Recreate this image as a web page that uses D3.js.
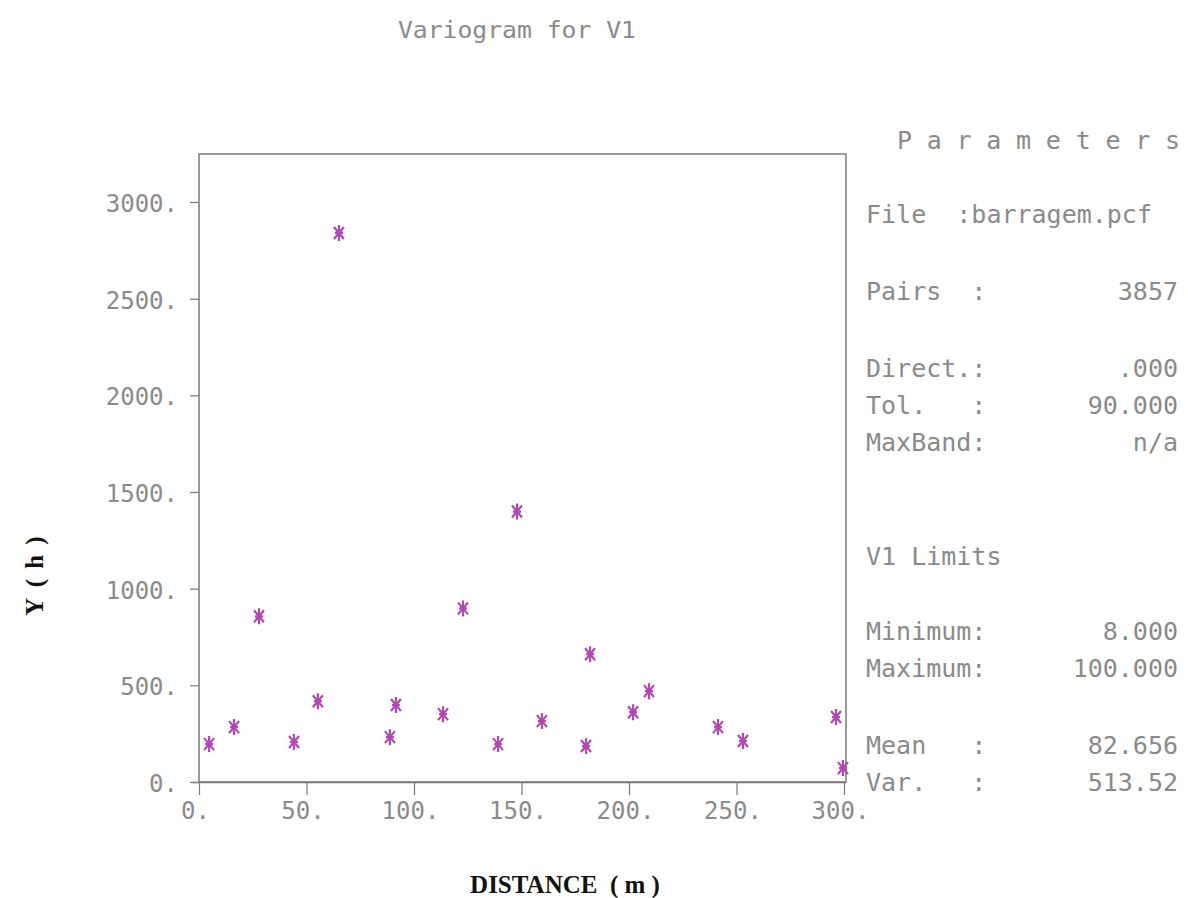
<!DOCTYPE html>
<html>
<head>
<meta charset="utf-8">
<script src="https://cdn.jsdelivr.net/npm/d3@7"></script>
<style>
  html, body { margin: 0; padding: 0; background: #fff; }
  svg { display: block; }
</style>
</head>
<body>
<svg id="chart" width="1188" height="898"></svg>
<script>
// ---- data ----
const title = "Variogram for V1";
const xLabel = "DISTANCE  ( m )";
const yLabel = "\u03A5 ( h )";
const lagDistance = [4.7, 16.3, 27.9, 44.2, 55.3, 65.1, 88.8, 91.6, 113.5, 122.8, 139.1, 147.9, 159.5, 180.0, 181.9, 201.9, 209.3, 241.4, 253.0, 296.3, 299.5];
const gammaValue  = [196, 284, 857, 207, 418, 2840, 232, 398, 351, 898, 196, 1399, 315, 186, 661, 361, 470, 284, 212, 336, 72];
const xTicks = [0, 50, 100, 150, 200, 250, 300];
const yTicks = [0, 500, 1000, 1500, 2000, 2500, 3000];
const paramsTitle = "Parameters";
const paramLabels = ["File  :barragem.pcf", "Pairs  :", "Direct.:", "Tol.   :", "MaxBand:", "V1 Limits", "Minimum:", "Maximum:", "Mean   :", "Var.   :"];
const paramValues = ["", "3857", ".000", "90.000", "n/a", "", "8.000", "100.000", "82.656", "513.52"];

// ---- layout ----
const svg = d3.select("#chart");
const frame = {left: 199, right: 846, top: 154, bottom: 782};
const x = d3.scaleLinear().domain([0, 300]).range([frame.left, frame.right - 2]);
const y = d3.scaleLinear().domain([0, 3000]).range([frame.bottom, 202]);
const grey = "#8a8a8a";
const mono = "'DejaVu Sans Mono', 'Liberation Mono', monospace";
const serif = "'Liberation Serif', 'DejaVu Serif', serif";

// title
svg.append("text")
  .attr("x", 398).attr("y", 38)
  .attr("font-family", mono).attr("font-size", 23)
  .attr("fill", grey)
  .attr("textLength", 238).attr("lengthAdjust", "spacingAndGlyphs")
  .text(title);

// frame
svg.append("rect")
  .attr("x", frame.left).attr("y", frame.top)
  .attr("width", frame.right - frame.left).attr("height", frame.bottom - frame.top)
  .attr("fill", "none").attr("stroke", "#7a7a7a").attr("stroke-width", 1.5);

// x axis
const xAxis = d3.axisBottom(x).tickValues(xTicks).tickSize(13).tickPadding(10)
  .tickFormat(d => d + ".");
const gx = svg.append("g").attr("transform", `translate(0,${frame.bottom})`).call(xAxis);
gx.select(".domain").attr("d", `M${frame.left - 6},0.5H${frame.right}`).attr("stroke", "#7a7a7a").attr("stroke-width", 1.5);
gx.selectAll(".tick line").attr("stroke", "#7a7a7a").attr("stroke-width", 1.2);
gx.selectAll(".tick text")
  .attr("font-family", mono).attr("font-size", 24).attr("fill", grey)
  .attr("dx", -4).attr("dy", "0.6em");

// y axis
const yAxis = d3.axisLeft(y).tickValues(yTicks).tickSize(9).tickPadding(12)
  .tickFormat(d => d + ".");
const gy = svg.append("g").attr("transform", `translate(${frame.left},0)`).call(yAxis);
gy.select(".domain").remove();
gy.selectAll(".tick line").attr("stroke", "#7a7a7a").attr("stroke-width", 1.2);
gy.selectAll(".tick text")
  .attr("font-family", mono).attr("font-size", 24).attr("fill", grey)
  .attr("dy", "0.4em");

// axis titles
svg.append("text")
  .attr("x", 565).attr("y", 893)
  .attr("text-anchor", "middle")
  .attr("font-family", serif).attr("font-weight", "bold").attr("font-size", 25)
  .attr("fill", "#111")
  .attr("xml:space", "preserve").style("white-space", "pre")
  .text(xLabel);
svg.append("text")
  .attr("transform", "translate(43,575) rotate(-90)")
  .attr("text-anchor", "middle")
  .attr("font-family", serif).attr("font-weight", "bold").attr("font-size", 25)
  .attr("letter-spacing", 2)
  .attr("fill", "#111")
  .text(yLabel);

// points (asterisk markers)
const pts = lagDistance.map((d, i) => ({lag: d, g: gammaValue[i]}));
const star = "M0,-8V8M-5,-6L5,6M-5,6L5,-6M-4,0H4";
svg.append("g").selectAll("path")
  .data(pts).join("path")
  .attr("transform", d => `translate(${x(d.lag)},${y(d.g)})`)
  .attr("d", star)
  .attr("fill", "none")
  .attr("stroke", "#b247b2")
  .attr("stroke-width", 2.2);

// parameters panel
svg.append("text")
  .attr("x", 897).attr("y", 149)
  .attr("font-family", mono).attr("font-size", 25)
  .attr("fill", grey)
  .attr("textLength", 283).attr("lengthAdjust", "spacing")
  .text(paramsTitle);

const rowY = [223, 300, 377, 414, 451, 565, 640, 677, 754, 791];
paramLabels.forEach((lab, i) => {
  svg.append("text")
    .attr("x", 866).attr("y", rowY[i])
    .attr("font-family", mono).attr("font-size", 25)
    .attr("fill", grey)
    .attr("xml:space", "preserve")
    .style("white-space", "pre")
    .text(lab);
  if (paramValues[i]) {
    svg.append("text")
      .attr("x", 1178).attr("y", rowY[i])
      .attr("text-anchor", "end")
      .attr("font-family", mono).attr("font-size", 25)
      .attr("fill", grey)
      .text(paramValues[i]);
  }
});
</script>
</body>
</html>
